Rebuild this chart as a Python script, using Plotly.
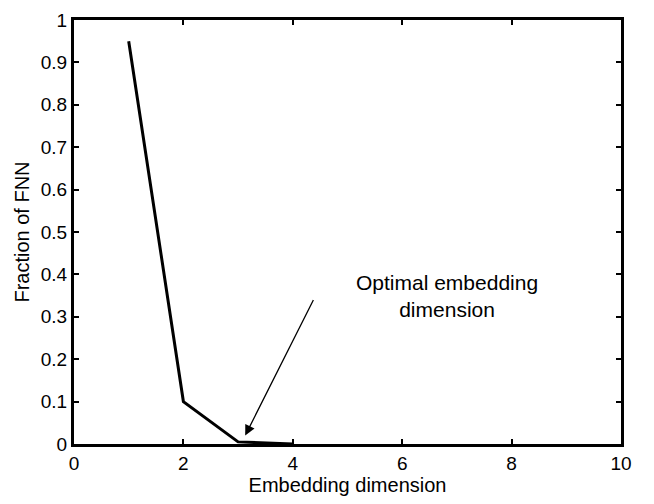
import plotly.graph_objects as go

dims = [1, 2, 3, 4]
fnn = [0.95, 0.10, 0.005, 0.0]
x_ticks = [0, 2, 4, 6, 8, 10]
y_ticks = [0, 0.1, 0.2, 0.3, 0.4, 0.5, 0.6, 0.7, 0.8, 0.9, 1]
y_tick_text = ["0", "0.1", "0.2", "0.3", "0.4", "0.5", "0.6", "0.7", "0.8", "0.9", "1"]
arrow_head = (3.13, 0.02)
arrow_tail = (4.39, 0.343)
note_pos = (6.82, 0.35)

fig = go.Figure()
fig.add_trace(go.Scatter(x=dims, y=fnn, mode="lines",
                         line=dict(color="black", width=3), showlegend=False))

font = dict(family="Liberation Sans, Arial, sans-serif", color="black")
fig.add_annotation(x=arrow_head[0], y=arrow_head[1], ax=arrow_tail[0], ay=arrow_tail[1],
                   xref="x", yref="y", axref="x", ayref="y", text="",
                   showarrow=True, arrowhead=2, arrowsize=1.6, arrowwidth=1.3, arrowcolor="black")
fig.add_annotation(x=note_pos[0], y=note_pos[1], xref="x", yref="y",
                   text="Optimal embedding<br>dimension", showarrow=False,
                   font=dict(size=21, **font), align="center")

axis_common = dict(showline=True, linecolor="black", linewidth=3, mirror="ticks",
                   ticks="inside", ticklen=5, tickwidth=2, tickcolor="black",
                   showgrid=False, zeroline=False, tickfont=dict(size=19, **font))
fig.update_xaxes(range=[0, 10], tickvals=x_ticks,
                 title=dict(text="Embedding dimension", font=dict(size=20, **font), standoff=6),
                 **axis_common)
fig.update_yaxes(range=[0, 1], tickvals=y_ticks, ticktext=y_tick_text,
                 title=dict(text="Fraction of FNN", font=dict(size=20, **font), standoff=6),
                 ticklabelstandoff=0, **axis_common)
fig.update_layout(width=654, height=504, margin=dict(l=74, r=33, t=10, b=60),
                  plot_bgcolor="white", paper_bgcolor="white")
fig.write_html("out.html")
